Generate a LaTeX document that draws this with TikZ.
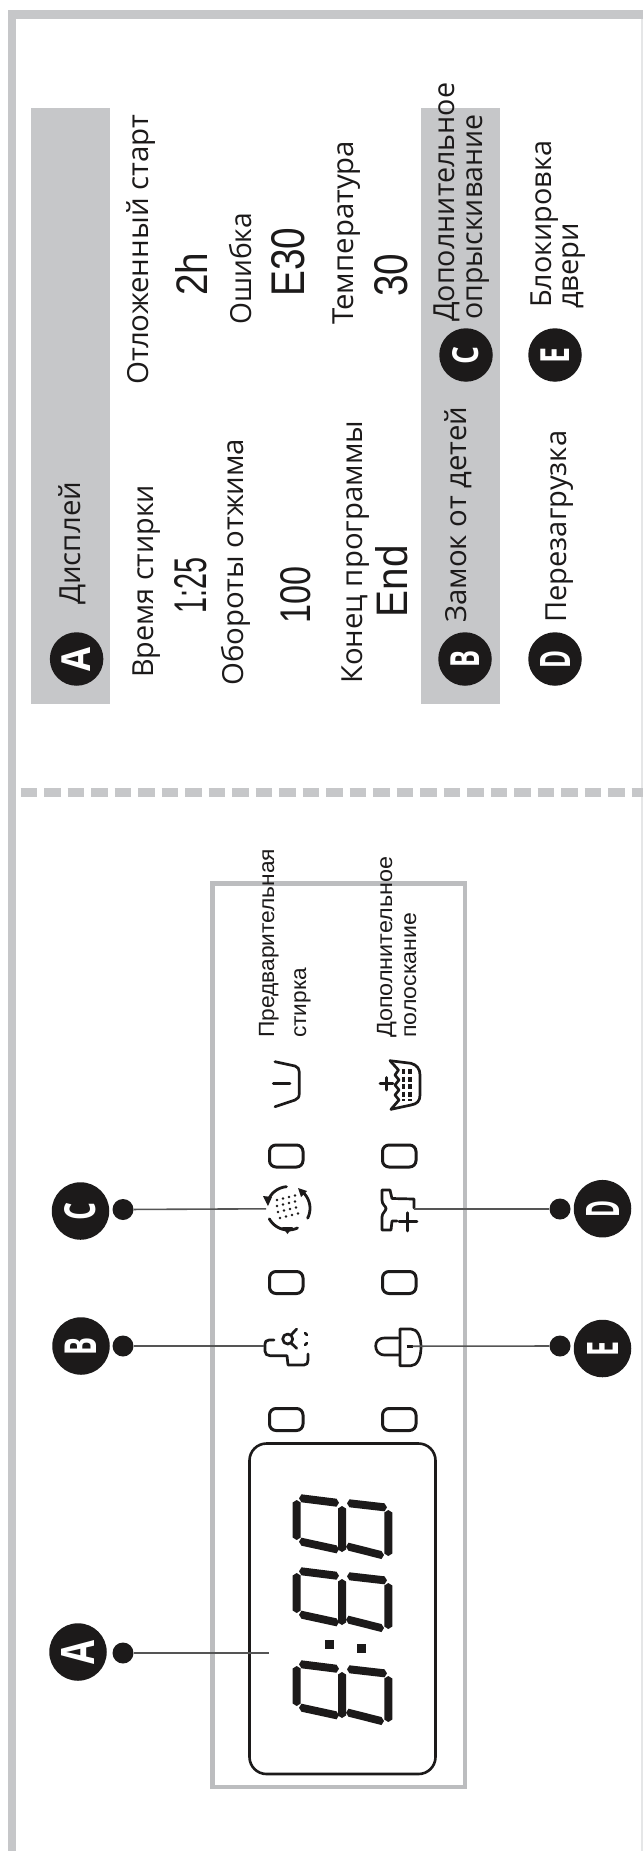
\documentclass[tikz,border=0pt]{standalone}
\usepackage{fontspec}
\setmainfont{Open Sans}
\newfontfamily\panelfont{Liberation Sans}
\newfontfamily\lcdfont{Liberation Sans}
\usetikzlibrary{calc}
\definecolor{bandgray}{HTML}{C6C7C9}
\definecolor{panelgray}{HTML}{BCBDBF}
\definecolor{ink}{HTML}{1C1A1A}
\definecolor{leader}{HTML}{555555}
\tikzset{
  rottext/.style={rotate=90,anchor=base west,inner sep=0pt,text=ink},
  legendbadge/.style={circle,fill=ink,inner sep=0pt,minimum size=53.5pt,text=white,font=\fontsize{30}{30}\selectfont\bfseries},
  callbadge/.style={circle,fill=ink,inner sep=0pt,minimum size=57.5pt,text=white,font=\fontsize{30}{30}\selectfont\bfseries},
  tipdot/.style={circle,fill=ink,inner sep=0pt,minimum size=21pt},
  leaderline/.style={draw=leader,line width=1.6pt},
  iconline/.style={draw=ink,line width=2.7pt,line cap=round,line join=round,fill=none},
  lamp/.style={draw=ink,line width=3pt,rounded corners=6.5pt,fill=none},
}
% baseline x, bottom y, length, size, text
\newcommand{\tx}[5]{\node[rottext] at (#1,#2) {\resizebox{#3pt}{\height}{\fontsize{#4}{#4}\selectfont #5}};}
\newcommand{\ptx}[4]{\node[rottext] at (#1,#2) {\resizebox{#3pt}{\height}{\fontsize{22}{22}\selectfont\panelfont #4}};}
% lcd text: center x, center y, length, thickness
\newcommand{\lcdt}[5]{\node[rotate=90,inner sep=0pt,text=ink] at (#1,#2) {\resizebox{#3pt}{#4pt}{\lcdfont #5}};}
% badge letter: width along its baseline, height, letter
\newcommand{\bl}[3]{\rotatebox{90}{\resizebox{#1pt}{#2pt}{#3}}}
\newcommand{\hseg}[4]{\fill[ink] (#1,#2) -- ({#1+2.5},{#2-4}) -- ({#3-2.5},{#4-4}) -- (#3,#4) -- ({#3-2.5},{#4+4}) -- ({#1+2.5},{#2+4}) -- cycle;}
\newcommand{\vseg}[4]{\fill[ink] (#1,#2) -- ({#1+4},{#2+2.5}) -- ({#3+4},{#4-2.5}) -- (#3,#4) -- ({#3-4},{#4-2.5}) -- ({#1-4},{#2+2.5}) -- cycle;}
\newcommand{\bigdigit}[1]{\begin{scope}[shift={(293,#1)}]
  \hseg{6}{2.3}{46}{6.7}\hseg{54}{7.3}{94}{11.3}
  \hseg{6}{45.7}{46}{53.3}\hseg{53}{50.7}{91}{59}
  \vseg{3.7}{4}{3.7}{44}\vseg{49}{10}{49}{56}\vseg{95.3}{14}{95.3}{60}
\end{scope}}
\begin{document}
\begin{tikzpicture}[x=1pt,y=-1pt]
\useasboundingbox (0,0) rectangle (643,1851);
\fill[white] (0,0) rectangle (643,1851);
% outer frame
\fill[bandgray] (7.5,10) rectangle (15.5,1851);
\fill[bandgray] (7.5,10) rectangle (643,19);
\fill[bandgray!45] (641,19) rectangle (643,1851);
% header bands
\fill[bandgray] (30.7,107.6) rectangle (110,704);
\fill[bandgray] (420.5,107.6) rectangle (500,704);
% dashed separator
\draw[bandgray,line width=9pt,dash pattern=on 16.5pt off 7pt] (20.5,792.5) -- (643,792.5);
% panel
\draw[panelgray,line width=4.5pt] (212.5,883.5) rectangle (465,1787);

% legend texts
\node[legendbadge] (la) at (76.6,659) {\bl{24}{28.7}{A}};
\tx{80}{605}{123}{29}{Дисплей}
\tx{153}{678}{193}{29}{Время стирки}
\lcdt{191}{585}{56}{32}{1:25}
\tx{243}{686}{247}{29}{Обороты отжима}
\lcdt{296}{595}{57}{30}{100}
\tx{362}{684}{263}{29}{Конец программы}
\lcdt{392}{581}{72}{32}{End}
\tx{148}{385}{270}{29}{Отложенный старт}
\lcdt{191.5}{274}{43}{32}{2h}
\tx{251}{325}{112}{29}{Ошибка}
\lcdt{288}{262}{69}{33}{E30}
\tx{353}{325}{184}{29}{Температура}
\lcdt{391}{275}{43}{33}{30}
\node[legendbadge] (lb) at (465,659) {\bl{17}{28.7}{B}};
\node[legendbadge] (lc) at (466,355) {\bl{18}{26}{C}};
\node[legendbadge] (ld) at (555,659) {\bl{18}{30}{D}};
\node[legendbadge] (le) at (555,355) {\bl{16}{28.7}{E}};
\tx{466}{623}{216}{29}{Замок от детей}
\tx{566}{623}{192}{29}{Перезагрузка}
\tx{454}{322}{239}{29}{Дополнительное}
\tx{482}{320}{205}{29}{опрыскивание}
\tx{551}{308}{167}{29}{Блокировка}
\tx{578}{309}{86}{29}{двери}

% panel texts
\ptx{274}{1038}{189}{Предварительная}
\ptx{306}{1038}{70}{стирка}
\ptx{392}{1038}{181}{Дополнительное}
\ptx{416}{1038}{125}{полоскание}

% lamps
\foreach \yy in {1156,1282.5,1419.5}{
  \draw[lamp] (269.5,{\yy-11}) rectangle (303,{\yy+11});
  \draw[lamp] (382.5,{\yy-11}) rectangle (416,{\yy+11});
}

% tub icon
\draw[iconline] (275,1061.7) -- (295,1066) .. controls (298,1067) and (299.3,1069) .. (299.3,1072) -- (299.3,1093) .. controls (299.3,1097) and (298,1099) .. (295,1100) -- (275,1106.7);
\draw[iconline] (273.3,1083.3) -- (290,1083.3);

% extra rinse icon
\draw[iconline] (390,1060.7) -- (411,1063.3) .. controls (417,1065) and (420,1069) .. (420,1075) -- (420,1095) .. controls (420,1101) and (417,1104) .. (411,1105) -- (391,1109.3);
\draw[iconline] (390,1060.7) -- (398.5,1070) -- (395,1075) -- (399,1080) -- (395,1085) -- (399,1090) -- (395,1095) -- (399,1100) -- (391,1109.3);
\draw[ink,line width=3.4pt,dash pattern=on 5pt off 2.5pt] (403.5,1069) -- (403.5,1101);
\draw[ink,line width=3.4pt,dash pattern=on 5pt off 2.5pt] (410,1069) -- (410,1101);
\draw[iconline] (380,1083.3) -- (393,1083.3) (386.7,1077.5) -- (386.7,1090);

% spray icon
\coordinate (isp) at (266,1208.8);
\draw[iconline,line width=2.8pt] plot[domain=265:197,samples=14,smooth] ({288.3+21.7*cos(\x)},{1208.3+21.7*sin(\x)});
\draw[iconline,line width=2.8pt] plot[domain=307:387,samples=14,smooth] ({288.3+21.7*cos(\x)},{1208.3+21.7*sin(\x)});
\draw[iconline,line width=2.8pt] plot[domain=151:65,samples=14,smooth] ({288.3+21.7*cos(\x)},{1208.3+21.7*sin(\x)});
\fill[ink] (263,1196) -- (272,1197) -- (268,1206) -- cycle;
\fill[ink] (298,1188) -- (307,1191) -- (301,1197) -- cycle;
\fill[ink] (282,1227) -- (293,1227) -- (287.5,1234) -- cycle;
\foreach \dx/\dy in {0/0,6/-1.5,12/-3,18/-4.5,0/6,6/4.5,12/3,18/1.5,1/12,7/10.5,13/9,19/7.5,3/18,9/16.5,15/15,21/13.5}{
  \fill[ink] ({277+\dx},{1200+\dy}) circle (1.3pt);
}

% shirt icon
\draw[iconline] (414,1208) -- (414,1199) -- (392,1198.5) -- (390,1190) -- (382,1190) -- (382,1200) .. controls (382,1205) and (386,1206) .. (386,1208.5) .. controls (386,1211) and (382,1213) .. (382,1217) -- (382,1230) -- (391,1230) -- (392,1221) -- (397,1221);
\draw[iconline] (399,1221.7) -- (417,1221.7) (407.7,1212.7) -- (407.7,1231);
\coordinate (ish) at (414,1209);

% child lock icon
\draw[iconline] (287.7,1339) circle (5pt);
\draw[iconline] (291,1335) -- (296.7,1329) (291,1343) -- (296.7,1348.3);
\draw[iconline] (305,1333) -- (307,1335) (307,1343) -- (305,1345);
\draw[iconline] (274,1340) -- (269,1340) .. controls (266,1340) and (265,1342) .. (265,1344) -- (265,1351) .. controls (265,1354) and (267,1355.7) .. (270,1355.7) -- (287,1355.7) -- (288,1365) -- (304,1365) .. controls (307,1365) and (308,1363) .. (308,1360) -- (308,1354);
\coordinate (icl) at (264,1346);

% door lock icon
\draw[iconline] (398,1338) -- (385,1338) .. controls (378,1338) and (375.7,1342) .. (375.7,1346) .. controls (375.7,1350) and (378,1355) .. (385,1355) -- (399,1355);
\draw[iconline] (400,1329) -- (411,1329) .. controls (417,1329) and (421,1336) .. (421,1347) .. controls (421,1358) and (417,1365.7) .. (411,1365.7) -- (400,1365.7) -- cycle;
\draw[ink,line width=3.4pt] (406.7,1346.7) -- (412.5,1346.7);
\coordinate (idl) at (412.5,1346.2);

% display
\draw[draw=ink,line width=2.6pt,rounded corners=17pt] (249.5,1443.5) rectangle (435.5,1774);
\bigdigit{1496}\bigdigit{1569}\bigdigit{1662}
\fill[ink] (325,1640) rectangle (333.5,1649);
\fill[ink] (357,1644) rectangle (365.5,1653);
\coordinate (idp) at (269,1653);

% callouts
\node[callbadge] (ca) at (78,1652) {\bl{24}{33}{A}};
\node[callbadge] (cb) at (81,1346) {\bl{18}{31.5}{B}};
\node[callbadge] (cc) at (80.5,1211) {\bl{18}{31}{C}};
\node[callbadge] (cd) at (602.5,1208.7) {\bl{17}{33}{D}};
\node[callbadge] (ce) at (602.5,1348.5) {\bl{15}{31}{E}};
\node[tipdot] (ta) at (123,1653) {};
\node[tipdot] (tb) at (123,1346) {};
\node[tipdot] (tc) at (123,1209.5) {};
\node[tipdot] (td) at (560,1209) {};
\node[tipdot] (te) at (560,1346) {};
\draw[leaderline] (ta) -- (idp);
\draw[leaderline] (tb) -- (icl);
\draw[leaderline] (tc) -- (isp);
\draw[leaderline] (td) -- (ish);
\draw[leaderline] (te) -- (idl);
\end{tikzpicture}
\end{document}
